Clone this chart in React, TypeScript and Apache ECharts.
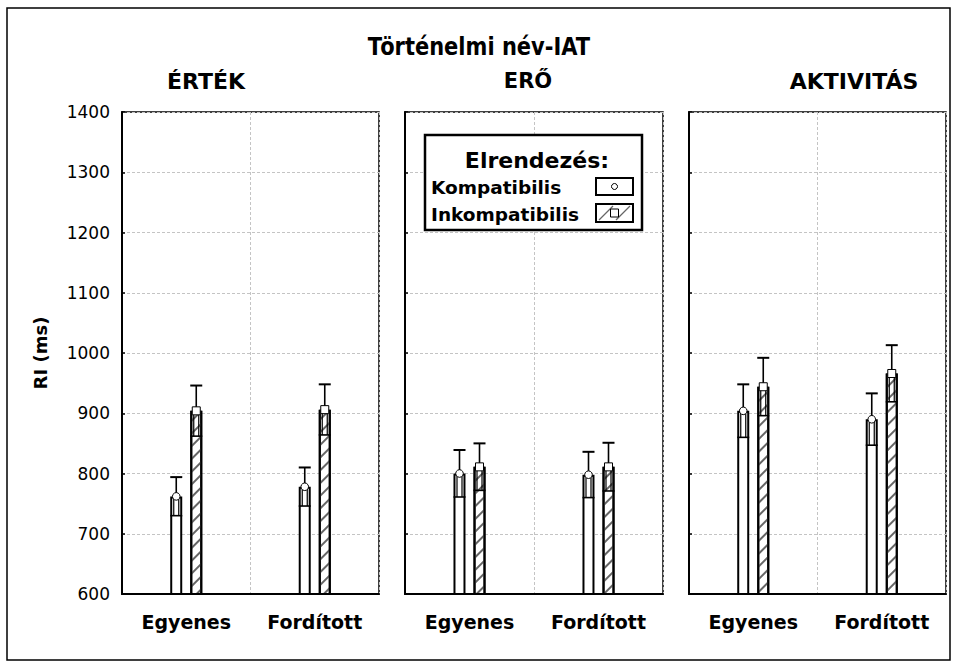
import React, { useEffect, useRef } from "react";
import * as echarts from "echarts";

const categories = ["Egyenes", "Fordított"];
const panelTitles = ["ÉRTÉK", "ERŐ", "AKTIVITÁS"];
const seriesNames = ["Kompatibilis", "Inkompatibilis"];
// means and standard errors per panel [Egyenes, Fordított]
const kompMean = [[762, 778], [800, 798], [904, 890]];
const kompErr = [[32, 32], [39, 38], [44, 43]];
const inkMean = [[904, 906], [811, 811], [944, 966]];
const inkErr = [[42, 42], [39, 40], [48, 47]];
const yMin = 600;
const yMax = 1400;
const yStep = 100;

const FONT = "DejaVu Sans";

const gridLefts = [122, 405, 689];
const gridWidths = [257, 258, 257];

function errRender(offset: number, marker: "circle" | "square") {
  return (params: any, api: any) => {
    const ci = api.value(0);
    const m = api.value(1);
    const e = api.value(2);
    const c = api.coord([ci, m]);
    const top = api.coord([ci, m + e])[1];
    const bot = api.coord([ci, m - e])[1];
    const x = c[0] + offset;
    const y = c[1];
    const hw = 6;
    const ls = { stroke: "#000", lineWidth: 1.6 };
    const children: any[] = [
      { type: "line", shape: { x1: x, y1: y, x2: x, y2: top }, style: ls },
      { type: "line", shape: { x1: x - hw, y1: top, x2: x + hw, y2: top }, style: { stroke: "#000", lineWidth: 2 } },
      { type: "line", shape: { x1: x - 2.5, y1: y, x2: x - 2.5, y2: bot }, style: { stroke: "#000", lineWidth: 1.2 } },
      { type: "line", shape: { x1: x + 2.5, y1: y, x2: x + 2.5, y2: bot }, style: { stroke: "#000", lineWidth: 1.2 } },
      { type: "line", shape: { x1: x - hw, y1: bot, x2: x + hw, y2: bot }, style: { stroke: "#000", lineWidth: 1.6 } },
    ];
    if (marker === "circle") {
      children.push({ type: "circle", shape: { cx: x, cy: y, r: 3.8 }, style: { fill: "#fff", stroke: "#000", lineWidth: 1 } });
    } else {
      children.push({ type: "rect", shape: { x: x - 4, y: y - 4, width: 8, height: 8 }, style: { fill: "#fff", stroke: "#000", lineWidth: 1 } });
    }
    return { type: "group", children };
  };
}

const hatchDecal = {
  symbol: "rect",
  symbolSize: 1,
  dashArrayX: [1, 0],
  dashArrayY: [1.2, 7],
  rotation: -Math.PI / 4,
  color: "#666",
  backgroundColor: "#fff",
};

export default function App() {
  const ref = useRef<HTMLDivElement>(null);
  useEffect(() => {
    document.body.style.margin = "0";
    const chart = echarts.init(ref.current!, null, { renderer: "svg" });
    const grids: any[] = [];
    const xAxes: any[] = [];
    const yAxes: any[] = [];
    const series: any[] = [];
    for (let p = 0; p < 3; p++) {
      grids.push({
        left: gridLefts[p],
        top: 112,
        width: gridWidths[p],
        height: 482,
        show: true,
        borderColor: "#000",
        borderWidth: 1.5,
        backgroundColor: "transparent",
      });
      xAxes.push({
        type: "category",
        gridIndex: p,
        data: categories,
        axisLine: { lineStyle: { color: "#000", width: 2 } },
        axisTick: { show: false },
        axisLabel: { color: "#000", fontFamily: FONT, fontWeight: "bold", fontSize: 19, margin: 18 },
        splitLine: { show: true, interval: 0, lineStyle: { color: "#c4c4c4", type: [3, 2], width: 1 } },
      });
      yAxes.push({
        type: "value",
        gridIndex: p,
        min: yMin,
        max: yMax,
        interval: yStep,
        axisLine: { show: true, lineStyle: { color: "#000", width: 2 } },
        axisTick: { show: true, inside: true, length: 3, lineStyle: { color: "#000", width: 1.5 } },
        axisLabel: {
          show: p === 0,
          color: "#000",
          fontFamily: FONT,
          fontSize: 17,
          margin: 12,
          formatter: (v: number) => String(v),
        },
        splitLine: { show: true, lineStyle: { color: "#c4c4c4", type: [3, 2], width: 1 } },
      });
      series.push({
        type: "bar",
        name: seriesNames[0],
        xAxisIndex: p,
        yAxisIndex: p,
        data: kompMean[p],
        barWidth: 12,
        barGap: "67%",
        itemStyle: { color: "#fff", borderColor: "#000", borderWidth: 2 },
        z: 2,
      });
      series.push({
        type: "bar",
        name: seriesNames[1],
        xAxisIndex: p,
        yAxisIndex: p,
        data: inkMean[p],
        barWidth: 12,
        barGap: "67%",
        itemStyle: { color: "#fff", borderColor: "#000", borderWidth: 2, decal: hatchDecal },
        z: 2,
      });
      series.push({
        type: "custom",
        xAxisIndex: p,
        yAxisIndex: p,
        z: 4,
        renderItem: errRender(-10, "circle"),
        data: kompMean[p].map((v, i) => [i, v, kompErr[p][i]]),
      });
      series.push({
        type: "custom",
        xAxisIndex: p,
        yAxisIndex: p,
        z: 4,
        renderItem: errRender(10, "square"),
        data: inkMean[p].map((v, i) => [i, v, inkErr[p][i]]),
      });
    }

    const bold = (text: string, x: number, y: number, size: number, align = "center", family = FONT) => ({
      type: "text",
      x,
      y,
      style: {
        text,
        fill: "#000",
        fontFamily: family,
        fontWeight: "bold",
        fontSize: size,
        textAlign: align,
        textVerticalAlign: "middle",
      },
    });

    const graphic: any[] = [
      { type: "rect", shape: { x: 7, y: 8, width: 943, height: 652 }, style: { fill: "none", stroke: "#000", lineWidth: 1.5 } },
      { ...bold("Történelmi név-IAT", 479, 46, 21), scaleY: 1.15, originY: 0 },
      bold(panelTitles[0], 206, 81, 22),
      bold(panelTitles[1], 528, 81, 21),
      bold(panelTitles[2], 854, 81, 22),
      {
        type: "text",
        x: 40,
        y: 353,
        rotation: Math.PI / 2,
        style: { text: "RI (ms)", fill: "#000", fontFamily: FONT, fontWeight: "bold", fontSize: 18, textAlign: "center", textVerticalAlign: "middle" },
      },
      // legend box
      { type: "rect", shape: { x: 425, y: 135, width: 217, height: 95 }, style: { fill: "#fff", stroke: "#000", lineWidth: 2.5 }, z: 10 },
      { ...bold("Elrendezés:", 537, 160, 22), z: 11 },
      { ...bold(seriesNames[0], 431, 187, 18.5, "left"), z: 11 },
      { ...bold(seriesNames[1], 431, 214, 18.5, "left"), z: 11 },
      { type: "rect", shape: { x: 596, y: 178, width: 37, height: 17 }, style: { fill: "#fff", stroke: "#000", lineWidth: 2 }, z: 11 },
      { type: "circle", shape: { cx: 614.5, cy: 186.5, r: 3 }, style: { fill: "#fff", stroke: "#000", lineWidth: 1 }, z: 12 },
      { type: "rect", shape: { x: 596, y: 204, width: 37, height: 18 }, style: { fill: "#fff", stroke: "#000", lineWidth: 2 }, z: 11 },
      { type: "line", shape: { x1: 599, y1: 220, x2: 613, y2: 206 }, style: { stroke: "#666", lineWidth: 1.2 }, z: 12 },
      { type: "line", shape: { x1: 616, y1: 220, x2: 630, y2: 206 }, style: { stroke: "#666", lineWidth: 1.2 }, z: 12 },
      { type: "rect", shape: { x: 610.5, y: 209, width: 8, height: 8 }, style: { fill: "#fff", stroke: "#000", lineWidth: 1 }, z: 13 },
    ];

    chart.setOption({
      animation: false,
      backgroundColor: "#fff",
      grid: grids,
      xAxis: xAxes,
      yAxis: yAxes,
      series,
      graphic,
    });
    return () => chart.dispose();
  }, []);
  return <div ref={ref} style={{ width: 958, height: 668 }} />;
}
